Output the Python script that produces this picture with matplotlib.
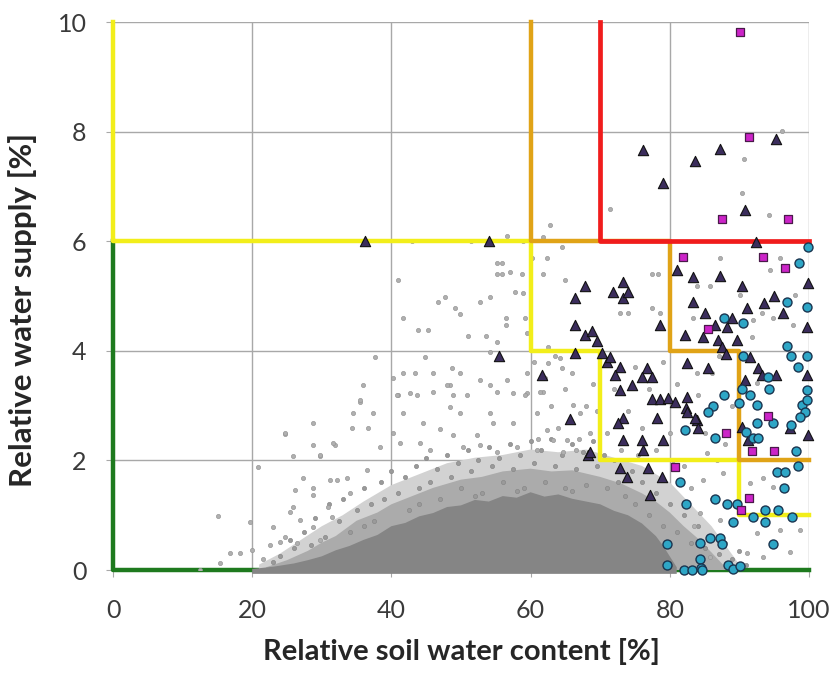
import matplotlib.pyplot as plt
import numpy as np

# threshold step lines (soil water content %, water supply %)
green_x = [0, 0, 100]
green_y = [6, 0, 0]
yellow_x = [0, 0, 60, 60, 70, 70, 90, 90, 100]
yellow_y = [10, 6, 6, 4, 4, 2, 2, 1, 1]
orange_x = [60, 60, 80, 80, 90, 90, 100]
orange_y = [10, 6, 6, 4, 4, 2, 2]
red_x = [70, 70, 100]
red_y = [10, 6, 6]

# saturated part of the grey cloud, outlines
core_x = [20, 23, 26, 28, 30, 32, 34, 36, 38, 40, 42, 44, 46, 48, 50, 52, 54, 56, 58, 60, 62, 64,
          66, 68, 70, 72, 74, 76, 78, 79, 80, 81, 81, 20]
core_y = [0.02, 0.06, 0.12, 0.18, 0.25, 0.36, 0.44, 0.55, 0.64, 0.8, 0.86, 0.98, 1.04, 1.15, 1.18,
          1.28, 1.25, 1.35, 1.32, 1.42, 1.34, 1.38, 1.3, 1.25, 1.2, 1.08, 1.0, 0.85, 0.62, 0.45, 0.25,
          0.05, -0.07, -0.07]
mid_x = [22, 25, 28, 30, 32, 35, 38, 40, 43, 46, 50, 53, 56, 60, 63, 66, 70, 73, 76, 78, 80, 82,
         84, 86, 88, 88, 22]
mid_y = [0.05, 0.18, 0.35, 0.5, 0.62, 0.9, 1.05, 1.2, 1.35, 1.5, 1.65, 1.7, 1.8, 1.85, 1.8, 1.82,
         1.7, 1.58, 1.4, 1.25, 1.05, 0.8, 0.58, 0.32, 0.05, 0.0, 0.0]
halo_x = [21, 24, 27, 30, 33, 36, 40, 44, 48, 52, 56, 60, 64, 68, 72, 76, 80, 83, 86, 88, 90, 90, 21]
halo_y = [0.1, 0.3, 0.55, 0.8, 1.0, 1.25, 1.55, 1.75, 1.95, 2.05, 2.1, 2.2, 2.15, 2.2, 2.05, 1.9,
          1.6, 1.2, 0.8, 0.45, 0.1, 0.0, 0.0]

# grey points inside the speckled halo
halo_pts = [
    (26, 0.4), (27.5, 0.7), (29, 0.95), (30.5, 0.6), (31, 1.2), (32.5, 0.9), (33, 1.3), (34, 0.7),
    (35, 1.1), (36, 1.5), (37, 1.2), (37.5, 0.9), (38.5, 1.6), (39, 1.3), (40, 1.8), (41, 1.4),
    (42, 1.7), (42.5, 1.1), (43.5, 1.9), (44, 1.5), (45, 2.05), (45.5, 1.6), (46.5, 1.85), (47, 1.3),
    (48, 2.1), (48.5, 1.7), (49.5, 1.95), (50, 1.5), (51, 2.2), (51.5, 1.8), (52.5, 2.0), (53, 1.4),
    (54, 2.25), (54.5, 1.9), (55.5, 2.05), (56, 1.6), (57, 2.3), (57.5, 1.85), (58.5, 2.1), (59, 1.5),
    (60, 2.35), (60.5, 1.95), (61.5, 2.2), (62, 1.6), (63, 2.4), (63.5, 1.9), (64.5, 2.1), (65, 1.5),
    (66, 2.3), (66.5, 1.85), (67.5, 2.15), (68, 1.55), (69, 2.35), (69.5, 1.9), (70.5, 2.1), (71, 1.5),
    (72, 2.0), (72.5, 1.6), (73.5, 1.35), (74.5, 1.8), (75, 1.2), (76, 1.6), (77, 1.0), (78, 1.4),
    (79, 0.8), (80, 1.2), (81, 0.7), (82, 1.0), (83, 0.5), (84, 0.8), (85, 0.4), (86, 0.6), (87, 0.3),
    (88, 0.5), (89, 0.2), (90, 0.35), (91, 0.1), (24, 0.25), (23, 0.15), (25.5, 0.55), (28.5, 0.45),
    (58, 1.45), (66, 1.45), (44, 1.2), (52, 1.35), (36, 0.8),
]

# scattered grey outliers
gray_pts = [
    (62.8, 6.3), (61.8, 6.08), (64.5, 5.9), (60.2, 5.69), (62.4, 5.69), (61.8, 5.4), (64.9, 5.29),
    (55.2, 5.6), (55.9, 5.6), (55.2, 5.4), (55.9, 5.4), (57.0, 5.44), (58.8, 5.4), (41.0, 5.29),
    (56.6, 6.1), (43.0, 6.0), (51.4, 6.0), (58.9, 6.0), (47.7, 4.98), (46.7, 4.89), (52.7, 4.89),
    (54.2, 4.98), (49.1, 4.78), (49.9, 4.67), (57.8, 5.07), (58.9, 5.05), (41.7, 4.6), (43.8, 4.38),
    (45.3, 4.38), (51.0, 4.27), (53.6, 4.27), (56.5, 4.6), (56.5, 4.47), (59.2, 4.6), (59.5, 4.32),
    (55.2, 4.16), (54.2, 3.98), (62.5, 4.07), (64.2, 3.87), (64.5, 3.69), (44.8, 3.89), (62.5, 3.78),
    (61.8, 3.25), (41.7, 3.6), (43.4, 3.6), (46.0, 3.6), (48.7, 3.69), (49.9, 3.6), (52.7, 3.47),
    (56.6, 3.47), (59.5, 3.6), (59.5, 3.23), (55.2, 3.25), (42.7, 3.23), (43.7, 3.19), (46.0, 3.25),
    (48.4, 3.38), (48.9, 3.19), (41.0, 3.19), (37.6, 3.89), (40.2, 3.5),
    (35.9, 3.38), (35.5, 3.07), (34.5, 2.86), (37.4, 2.86), (28.7, 2.68), (24.7, 2.48), (34.3, 2.59),
    (36.6, 2.59), (28.7, 2.28), (31.9, 2.28), (25.9, 2.08), (29.7, 2.08), (27.3, 1.68), (31.2, 1.64),
    (33.6, 1.68), (26.1, 1.46), (28.7, 1.37), (30.9, 1.15), (25.4, 1.06), (26.9, 0.91), (28.7, 0.78),
    (24.7, 0.6), (26.4, 0.49), (29.7, 0.55), (40.8, 3.19), (48.0, 3.38), (50.9, 3.19),
    (54.2, 3.38), (57.5, 3.23), (59.2, 3.19), (41.7, 2.86), (44.5, 2.68), (48.4, 2.97), (49.9, 2.86),
    (54.2, 2.86), (57.5, 2.68), (54.6, 2.68), (47.0, 2.57), (52.3, 2.46), (48.9, 2.46), (41.2, 2.31),
    (44.1, 2.31), (45.5, 2.19), (50.3, 2.25), (52.7, 2.28), (55.2, 2.15), (58.0, 2.25), (60.9, 2.86),
    (61.4, 3.25), (62.4, 2.55), (63.2, 2.37), (65.2, 2.37), (66.1, 3.01), (67.1, 2.86), (64.7, 2.15),
    (60.9, 2.19), (15.1, 0.98), (19.7, 0.88), (20.8, 1.88), (16.8, 0.31), (18.2, 0.31), (20.0, 0.36),
    (15.4, 0.13), (12.5, 0.0), (24.7, 2.5), (23.0, 0.78), (24.0, 0.51), (25.9, 1.15), (28.7, 1.5),
    (31.6, 2.31), (32.2, 1.64), (35.5, 3.1), (29.7, 2.1), (31.5, 0.97), (34.1, 1.4), (36.5, 1.82),
    (38.4, 2.25), (40.2, 2.5), (21.5, 0.2), (22.5, 0.45),
    (96.1, 8.01), (90.7, 7.5), (90.4, 6.88), (71.4, 6.59), (94.3, 6.48), (87.2, 5.69), (94.4, 5.47),
    (95.8, 5.69), (77.4, 5.4), (78.3, 5.4), (83.9, 5.18), (85.8, 5.18), (90.1, 5.02), (77.4, 4.78),
    (72.8, 4.69), (74.0, 4.69), (78.6, 4.69), (98.0, 5.02), (83.3, 4.6), (92.0, 4.56), (94.8, 4.6),
    (97.7, 4.47), (91.8, 4.25), (93.2, 4.69), (83.9, 3.59), (92.5, 3.41),
    (62.0, 3.5), (63.0, 3.0), (64.0, 2.6), (65.0, 3.3), (66.0, 3.6), (67.0, 2.4), (68.0, 3.0),
    (69.0, 3.4), (61.0, 2.4), (63.5, 3.9), (60.5, 3.8), (66.5, 2.2), (68.5, 2.5), (69.5, 2.9),
    (71.0, 2.5), (72.0, 3.3), (74.0, 2.9), (75.0, 3.7), (76.0, 2.6), (77.0, 3.3), (78.0, 2.2),
    (79.0, 3.8), (80.0, 2.5), (81.0, 3.4), (73.0, 2.2), (75.5, 2.1), (84.0, 3.2), (86.0, 3.6),
    (88.0, 2.3), (85.0, 2.5), (89.0, 3.0), (87.0, 3.9),
    (85.3, 2.13), (86.8, 2.0), (87.6, 1.77), (84.8, 1.64), (91.5, 1.59), (93.4, 1.68), (94.8, 1.52),
    (84.3, 1.04), (87.2, 0.91), (92.5, 0.68), (95.8, 0.73), (91.1, 0.31), (93.4, 0.24), (97.3, 0.33),
    (98.7, 0.73), (85.8, 0.24), (82.0, 1.9), (83.0, 1.5), (80.5, 2.0), (83.5, 0.8), (86.0, 1.3),
]

# triangles
tri_pts = [
    (36.2, 6.0), (54.0, 6.0), (55.4, 3.9), (61.6, 3.56),
    (67.8, 5.18), (66.4, 4.96), (66.4, 4.47), (67.8, 4.29), (68.8, 4.36), (69.5, 4.18), (66.4, 3.96),
    (70.2, 3.96), (71.0, 3.8), (71.4, 3.89), (73.3, 5.26), (71.8, 5.07), (73.3, 4.96), (74.0, 5.07),
    (81.0, 5.47), (83.3, 5.35), (83.3, 4.89), (78.6, 4.47), (82.2, 4.29),
    (72.8, 3.7), (72.1, 3.56), (76.7, 3.69), (76.0, 3.52), (77.4, 3.52), (82.5, 3.78),
    (76.1, 7.66), (79.0, 7.06), (83.6, 7.46), (87.2, 7.68), (95.3, 7.86), (90.8, 6.57), (92.4, 5.99),
    (87.2, 5.36), (90.4, 5.18), (95.0, 5.0), (99.8, 5.24),
    (93.5, 4.87), (91.1, 4.78), (96.3, 4.69), (85.1, 4.69), (88.9, 4.6), (88.2, 4.43), (86.5, 4.47),
    (84.8, 4.25), (99.7, 4.43), (86.9, 4.2), (89.7, 4.2), (87.5, 4.07), (88.1, 3.94), (91.5, 3.89),
    (92.7, 3.69), (93.2, 3.56), (95.3, 3.56), (99.7, 3.56), (90.8, 3.47), (85.5, 3.69),
    (99.8, 2.46), (90.4, 2.61), (82.3, 2.96), (83.9, 2.74),
    (74.6, 3.38), (72.8, 3.28), (82.5, 3.16), (77.4, 3.12), (78.6, 3.12), (79.7, 3.14), (80.7, 3.07),
    (82.5, 2.88), (83.6, 2.77), (84.1, 2.59), (78.2, 2.77), (73.3, 2.77), (72.6, 2.68), (65.7, 2.75),
    (73.3, 2.37), (76.0, 2.37), (79.0, 2.37), (76.1, 2.19), (68.2, 2.1), (68.5, 2.15), (72.8, 1.86),
    (76.9, 1.86), (73.9, 1.7), (78.9, 1.7), (77.2, 1.37), (91.2, 2.37), (97.3, 2.59),
]

# squares
sq_pts = [
    (90.1, 9.82), (91.4, 7.9), (87.5, 6.4), (97.0, 6.4), (81.9, 5.71), (93.4, 5.71), (96.6, 5.51),
    (85.5, 4.4), (94.1, 2.81), (88.1, 2.5), (91.8, 2.17), (95.0, 2.17), (80.7, 1.88), (91.4, 1.31),
    (90.2, 1.09),
]

# circles
circ_pts = [
    (99.8, 5.9), (98.6, 5.6), (96.8, 4.89), (99.7, 4.8), (87.8, 4.6), (90.5, 4.51), (96.8, 4.09),
    (90.5, 3.9), (97.4, 3.9), (99.7, 3.9), (98.4, 3.7), (94.1, 3.52), (94.3, 3.3), (99.7, 3.28),
    (87.8, 3.19), (90.4, 3.3), (91.5, 3.19), (90.0, 3.05), (92.5, 3.01), (86.2, 2.99), (85.5, 2.88),
    (99.0, 3.01), (99.7, 3.1), (99.4, 2.88), (92.5, 2.68), (94.8, 2.68), (97.4, 2.65), (98.7, 2.79),
    (90.9, 2.52), (82.2, 2.55), (86.5, 2.41), (92.0, 2.41), (92.7, 2.41), (98.1, 2.18), (98.4, 1.89),
    (95.4, 1.79), (96.6, 1.79), (96.4, 1.5), (81.4, 1.6), (86.5, 1.3), (88.2, 1.2), (89.7, 1.2),
    (82.3, 1.21), (93.7, 1.09), (95.5, 1.09), (92.0, 0.97), (97.6, 0.97), (89.1, 0.88), (93.7, 0.88),
    (85.8, 0.58), (87.2, 0.58), (87.5, 0.47), (84.3, 0.49), (94.8, 0.47), (79.6, 0.47), (84.3, 0.2),
    (79.6, 0.09), (82.0, 0.0), (83.2, 0.0), (84.5, 0.04), (88.4, 0.09), (89.1, 0.02), (90.1, 0.07),
    (84.6, 0.0),
]

x_ticks = [0, 20, 40, 60, 80, 100]
y_ticks = [0, 2, 4, 6, 8, 10]

plt.rcParams['font.family'] = ['Lato', 'DejaVu Sans']

fig = plt.figure(figsize=(8.34, 6.73), dpi=100)
ax = fig.add_axes([0.1355, 0.153, 0.8345, 0.814])

ax.set_xlim(0, 100)
ax.set_ylim(0, 10)
ax.set_xticks(x_ticks)
ax.set_yticks(y_ticks)
ax.grid(True, color='#a8a8a8', linewidth=1.0, zorder=0)
ax.set_axisbelow(True)
for s in ax.spines.values():
    s.set_visible(False)
ax.tick_params(length=5, color='#a8a8a8', labelsize=18, labelcolor='#3a3a3a')
ax.tick_params(axis='x', pad=16)
ax.tick_params(axis='y', pad=14)

ax.plot(green_x, green_y, color='#1e7a1e', linewidth=3.2, clip_on=False, zorder=1)

ax.fill(halo_x, halo_y, color='#d2d2d2', linewidth=0, zorder=2)
ax.fill(mid_x, mid_y, color='#ababab', linewidth=0, zorder=2)
ax.fill(core_x, core_y, color='#858585', linewidth=0, clip_on=False, zorder=2)

h = np.array(halo_pts)
ax.scatter(h[:, 0], h[:, 1], s=9, color='#9a9a9a', edgecolors='#888888', linewidths=0.5, zorder=3)
g = np.array(gray_pts)
ax.scatter(g[:, 0], g[:, 1], s=9, color='#b0b0b0', edgecolors='#969696', linewidths=0.5, zorder=3)

ax.plot(yellow_x, yellow_y, color='#f2ee1a', linewidth=3.2, clip_on=False, zorder=4)
ax.plot(orange_x, orange_y, color='#e0a317', linewidth=3.2, clip_on=False, zorder=4)
ax.plot(red_x, red_y, color='#f01c1c', linewidth=3.4, clip_on=False, zorder=4)

t = np.array(tri_pts)
ax.scatter(t[:, 0], t[:, 1], marker='^', s=55, color='#3b2d5c', edgecolors='#111111', linewidths=0.8, zorder=5, clip_on=False)
c = np.array(circ_pts)
ax.scatter(c[:, 0], c[:, 1], marker='o', s=42, color='#2ea6c6', edgecolors='#1a3550', linewidths=1.0, zorder=5, clip_on=False)
q = np.array(sq_pts)
ax.scatter(q[:, 0], q[:, 1], marker='s', s=34, color='#cc24c8', edgecolors='#4a1a4a', linewidths=0.9, zorder=6, clip_on=False)

ax.set_xlabel('Relative soil water content [%]', fontsize=21, fontweight='bold', color='#262626')
ax.set_ylabel('Relative water supply [%]', fontsize=22.5, fontweight='bold', color='#262626')
ax.xaxis.set_label_coords(0.501, -0.124)
ax.yaxis.set_label_coords(-0.109, 0.474)

fig.savefig('out.png', dpi=100)
